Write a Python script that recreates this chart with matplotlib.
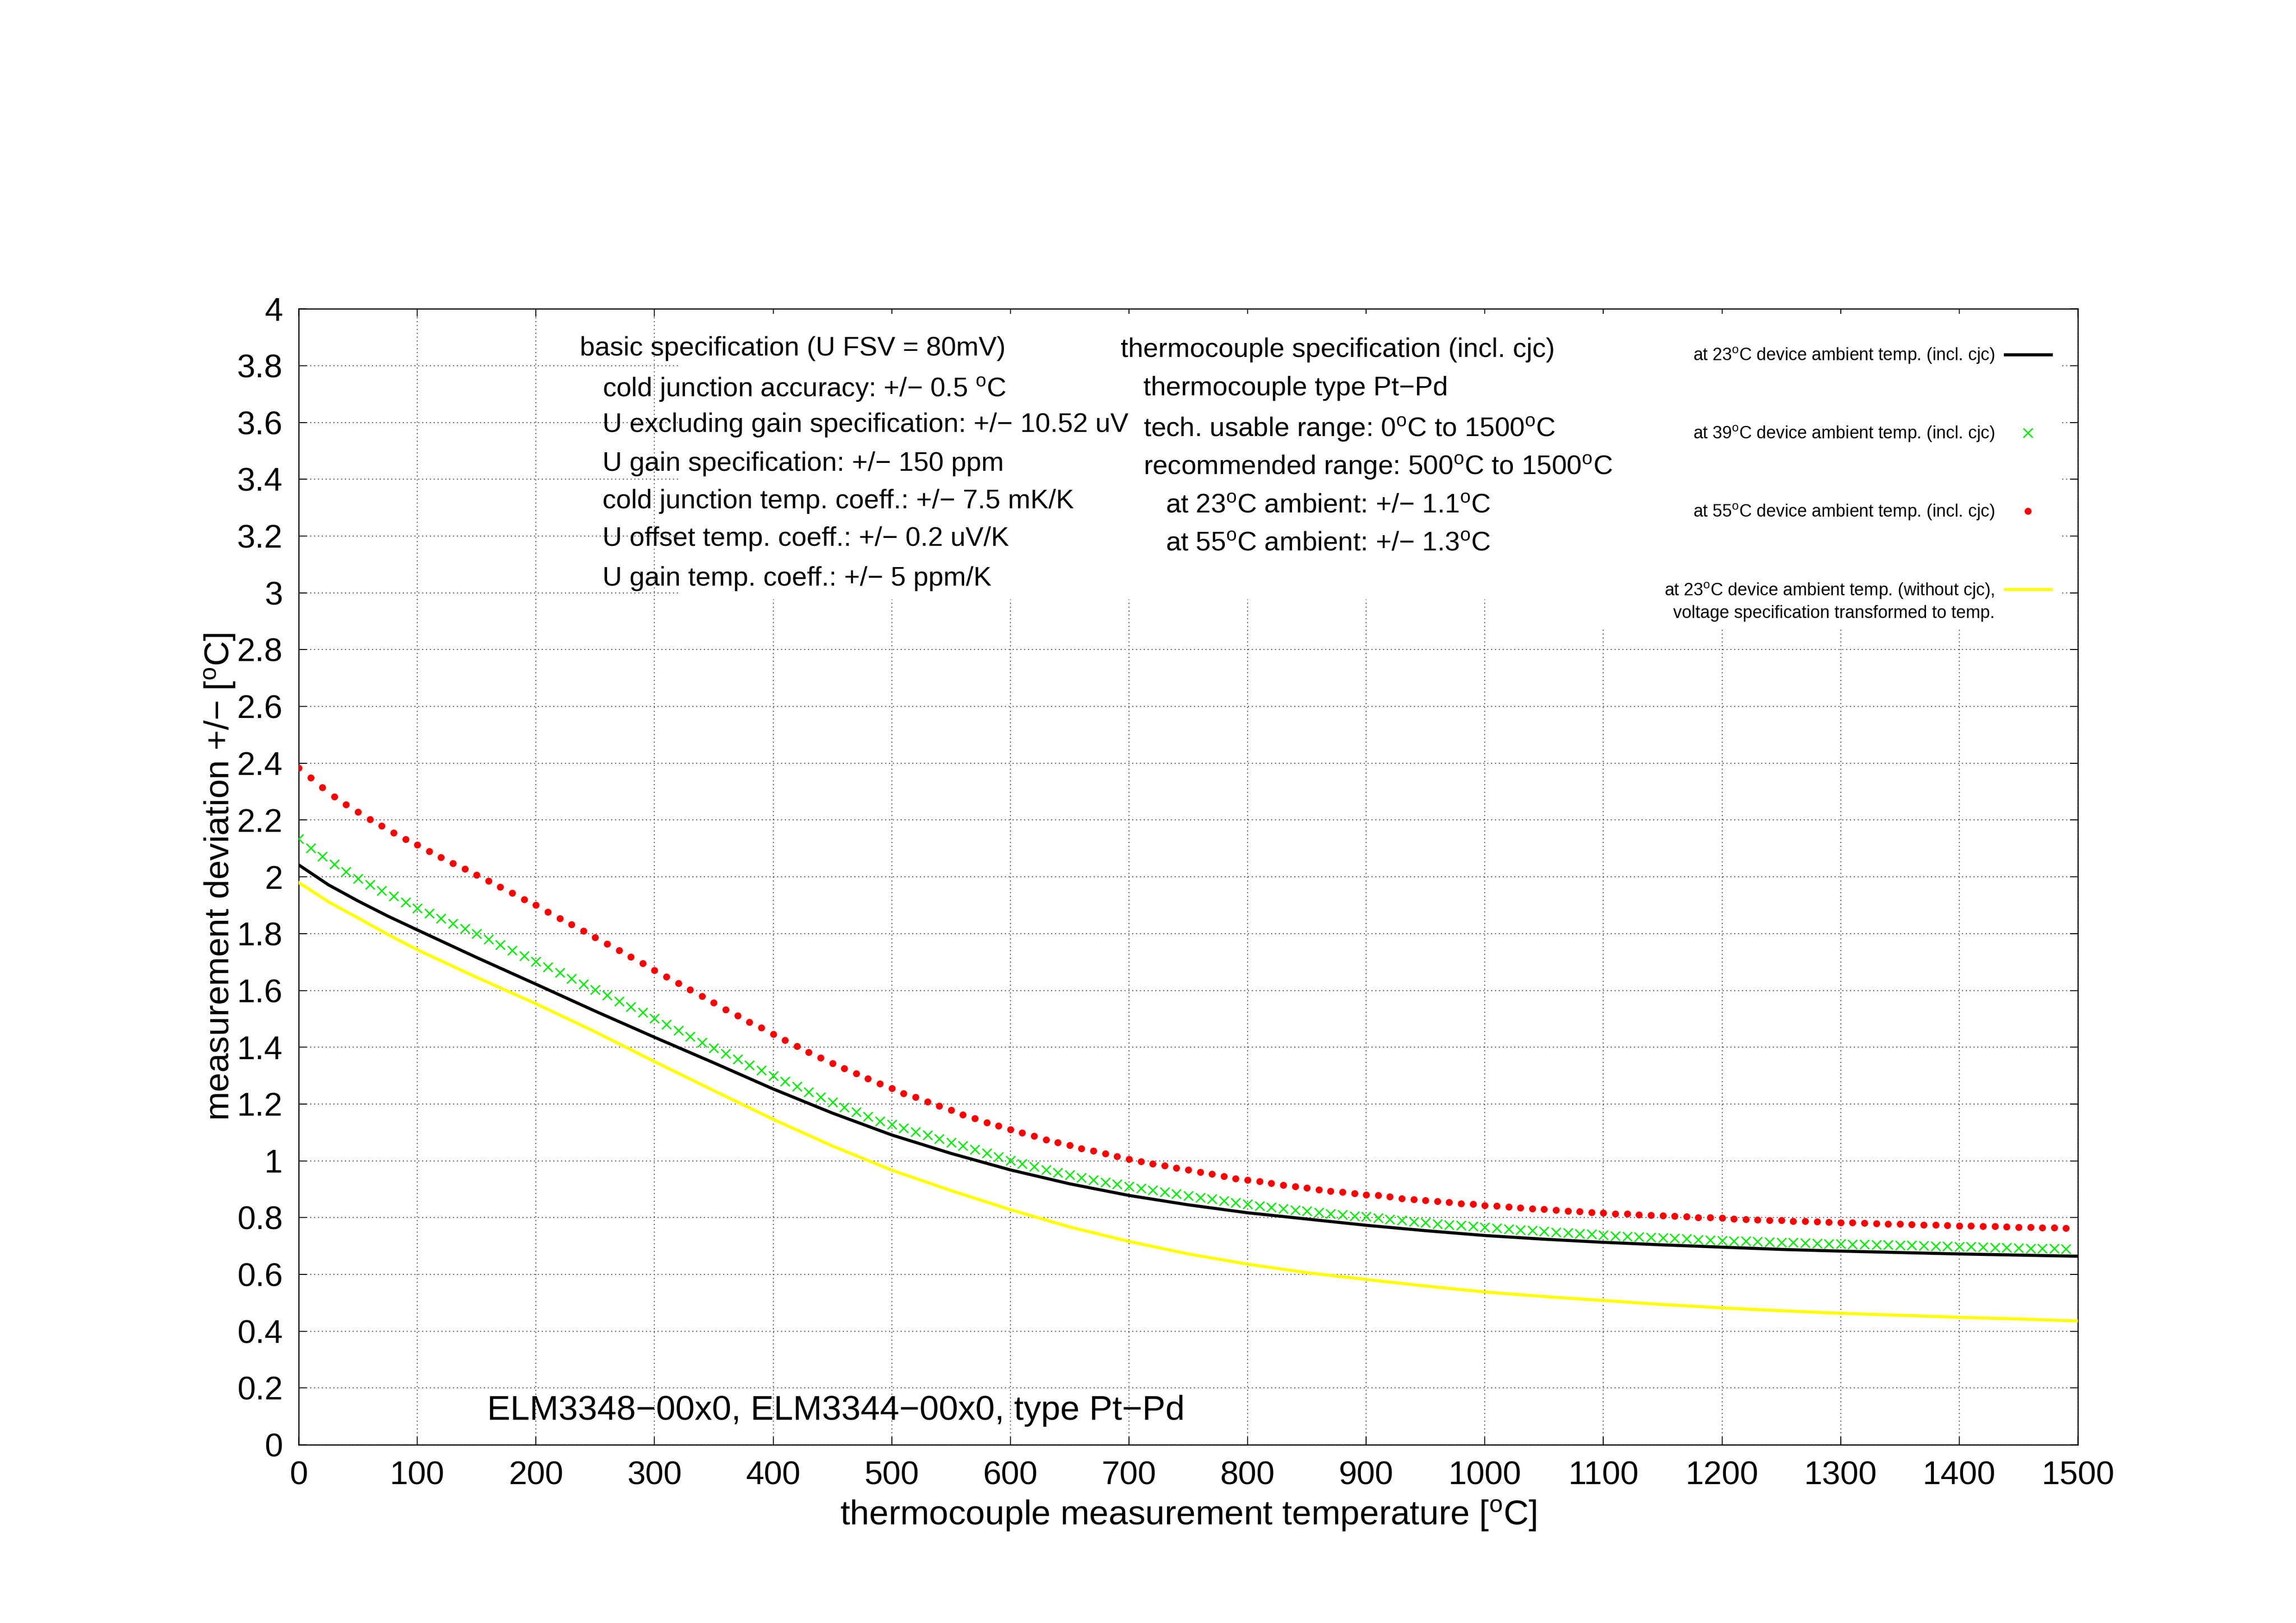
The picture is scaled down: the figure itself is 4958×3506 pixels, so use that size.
import numpy as np
import matplotlib.pyplot as plt
from matplotlib.patches import Rectangle

plt.rcParams['font.family'] = ['Liberation Sans', 'DejaVu Sans']
plt.rcParams['mathtext.fontset'] = 'custom'
plt.rcParams['mathtext.rm'] = 'Liberation Sans'
plt.rcParams['mathtext.it'] = 'Liberation Sans:italic'

DEG = r'$^{\mathrm{o}}$'

# lines (23 C with cjc, 23 C without cjc)
line_x = [0, 25, 50, 75, 100, 150, 200, 250, 300, 350, 400, 450, 500, 550, 600, 650,
          700, 750, 800, 850, 900, 950, 1000, 1050, 1100, 1150, 1200, 1250, 1300,
          1350, 1400, 1450, 1500]
black_y = [2.042, 1.972, 1.915, 1.862, 1.813, 1.716, 1.622, 1.527, 1.435, 1.345, 1.253,
           1.168, 1.091, 1.026, 0.968, 0.919, 0.878, 0.845, 0.817, 0.795, 0.773, 0.754,
           0.737, 0.724, 0.713, 0.704, 0.696, 0.688, 0.682, 0.677, 0.672, 0.668, 0.664]
yellow_y = [1.980, 1.912, 1.855, 1.797, 1.743, 1.646, 1.553, 1.454, 1.349, 1.247, 1.146,
            1.052, 0.967, 0.895, 0.828, 0.767, 0.716, 0.672, 0.636, 0.606, 0.582, 0.559,
            0.538, 0.522, 0.508, 0.494, 0.482, 0.472, 0.463, 0.456, 0.449, 0.443, 0.436]

# point series every 10 C
pts_x = np.arange(0, 1500, 10)
green_y = [
    2.134, 2.101, 2.072, 2.045, 2.018, 1.994, 1.973, 1.951, 1.931, 1.910,
    1.889, 1.871, 1.853, 1.835, 1.817, 1.799, 1.780, 1.761, 1.741, 1.721,
    1.702, 1.682, 1.663, 1.642, 1.622, 1.603, 1.583, 1.562, 1.542, 1.522,
    1.501, 1.480, 1.459, 1.438, 1.417, 1.397, 1.378, 1.358, 1.337, 1.318,
    1.299, 1.280, 1.261, 1.243, 1.225, 1.206, 1.189, 1.172, 1.156, 1.140,
    1.128, 1.115, 1.102, 1.090, 1.077, 1.065, 1.053, 1.040, 1.027, 1.014,
    1.001, 0.990, 0.979, 0.968, 0.959, 0.950, 0.941, 0.932, 0.924, 0.917,
    0.910, 0.903, 0.896, 0.890, 0.883, 0.877, 0.871, 0.865, 0.859, 0.853,
    0.847, 0.842, 0.836, 0.832, 0.827, 0.823, 0.819, 0.814, 0.810, 0.806,
    0.803, 0.798, 0.794, 0.790, 0.786, 0.782, 0.778, 0.775, 0.772, 0.769,
    0.766, 0.763, 0.760, 0.757, 0.754, 0.751, 0.748, 0.746, 0.743, 0.741,
    0.738, 0.736, 0.734, 0.732, 0.731, 0.729, 0.727, 0.725, 0.723, 0.721,
    0.719, 0.718, 0.717, 0.716, 0.714, 0.713, 0.712, 0.711, 0.709, 0.708,
    0.707, 0.706, 0.706, 0.704, 0.704, 0.703, 0.702, 0.701, 0.700, 0.699,
    0.698, 0.697, 0.696, 0.695, 0.694, 0.693, 0.692, 0.692, 0.691, 0.690]
red_y = [
    2.384, 2.349, 2.315, 2.283, 2.254, 2.228, 2.203, 2.179, 2.155, 2.133,
    2.112, 2.090, 2.068, 2.048, 2.028, 2.007, 1.986, 1.964, 1.943, 1.921,
    1.900, 1.877, 1.854, 1.833, 1.810, 1.787, 1.764, 1.741, 1.718, 1.695,
    1.671, 1.648, 1.626, 1.602, 1.579, 1.556, 1.533, 1.511, 1.488, 1.468,
    1.446, 1.425, 1.403, 1.383, 1.363, 1.343, 1.325, 1.307, 1.289, 1.271,
    1.255, 1.238, 1.224, 1.208, 1.193, 1.178, 1.163, 1.150, 1.135, 1.123,
    1.110, 1.099, 1.087, 1.075, 1.065, 1.054, 1.044, 1.035, 1.025, 1.015,
    1.006, 0.998, 0.990, 0.983, 0.975, 0.968, 0.961, 0.953, 0.946, 0.938,
    0.932, 0.927, 0.921, 0.915, 0.909, 0.904, 0.899, 0.894, 0.890, 0.886,
    0.881, 0.878, 0.873, 0.868, 0.864, 0.861, 0.857, 0.854, 0.850, 0.847,
    0.843, 0.841, 0.838, 0.835, 0.832, 0.830, 0.827, 0.824, 0.822, 0.819,
    0.817, 0.814, 0.813, 0.811, 0.809, 0.807, 0.805, 0.803, 0.801, 0.800,
    0.798, 0.796, 0.794, 0.793, 0.791, 0.790, 0.788, 0.787, 0.786, 0.784,
    0.783, 0.782, 0.781, 0.779, 0.778, 0.777, 0.776, 0.775, 0.774, 0.772,
    0.771, 0.771, 0.769, 0.769, 0.768, 0.767, 0.766, 0.765, 0.764, 0.763]

labels = [
    'at 23' + DEG + 'C device ambient temp. (incl. cjc)',
    'at 39' + DEG + 'C device ambient temp. (incl. cjc)',
    'at 55' + DEG + 'C device ambient temp. (incl. cjc)',
    'at 23' + DEG + 'C device ambient temp. (without cjc),',
]
label4_second = 'voltage specification transformed to temp.'

spec_left = [
    'basic specification (U FSV = 80mV)',
    'cold junction accuracy: +/\u2212 0.5 ' + DEG + 'C',
    'U excluding gain specification: +/\u2212 10.52 uV',
    'U gain specification: +/\u2212 150 ppm',
    'cold junction temp. coeff.: +/\u2212 7.5 mK/K',
    'U offset temp. coeff.: +/\u2212 0.2 uV/K',
    'U gain temp. coeff.: +/\u2212 5 ppm/K',
]
spec_left_pos = [(237, 3.835), (256, 3.691), (256, 3.567), (256, 3.429),
                 (256, 3.297), (256, 3.165), (256, 3.026)]
spec_right = [
    'thermocouple specification (incl. cjc)',
    'thermocouple type Pt\u2212Pd',
    'tech. usable range: 0' + DEG + 'C to 1500' + DEG + 'C',
    'recommended range: 500' + DEG + 'C to 1500' + DEG + 'C',
    'at 23' + DEG + 'C ambient: +/\u2212 1.1' + DEG + 'C',
    'at 55' + DEG + 'C ambient: +/\u2212 1.3' + DEG + 'C',
]
spec_right_pos = [(693, 3.830), (712, 3.696), (712, 3.551), (712, 3.417),
                  (731, 3.283), (731, 3.149)]

fig = plt.figure(figsize=(4958 / 300, 3506 / 300), dpi=300)
ax = fig.add_axes([0.1301, 0.1098, 0.7749, 0.6999])

ax.set_xlim(0, 1500)
ax.set_ylim(0, 4)
ax.set_xticks(np.arange(0, 1501, 100))
ax.set_yticks(np.arange(0, 4.01, 0.2))
ax.set_yticklabels([f'{v:g}' for v in np.round(np.arange(0, 4.01, 0.2), 1)])
ax.set_axisbelow(True)
ax.grid(True, color='#404040', linewidth=0.5, dashes=(1, 3))
ax.tick_params(direction='in', length=4, width=0.5, top=True, right=True,
               labelsize=17)
ax.tick_params(axis='x', pad=8.3)
ax.tick_params(axis='y', pad=8.3)
for s in ax.spines.values():
    s.set_linewidth(0.6)

# opaque areas behind the text blocks and key
ax.add_patch(Rectangle((322, 2.976), 798, 1.006, facecolor='white',
                       edgecolor='none', zorder=1))
ax.add_patch(Rectangle((1095, 2.877), 391, 1.105, facecolor='white',
                       edgecolor='none', zorder=1))

h1, = ax.plot(line_x, black_y, color='black', linewidth=1.6, label=labels[0], zorder=3)
h2, = ax.plot(pts_x, green_y, linestyle='none', marker='x', markersize=5,
              markeredgewidth=0.7, color='#00ee00', label=labels[1], zorder=3)
h3, = ax.plot(pts_x, red_y, linestyle='none', marker='o', markersize=3.6,
              markeredgewidth=0, color='#ff0000', label=labels[2], zorder=3)
h4, = ax.plot(line_x, yellow_y, color='#ffff00', linewidth=1.6, label=labels[3], zorder=3)

leg = ax.legend(handles=[h1, h2, h3, h4], loc='upper right',
                bbox_to_anchor=(0.9897, 0.975), frameon=False, markerfirst=False,
                fontsize=9, handlelength=2.64, handletextpad=0.6,
                labelspacing=3.41, borderpad=0, numpoints=1)
leg.set_zorder(5)

# second line of the last key entry, right-aligned under the first line
ax.annotate(label4_second, xy=(1, 0), xycoords=leg.get_texts()[3],
            xytext=(0, -2.5), textcoords='offset points', ha='right', va='top',
            fontsize=9, zorder=6)

for txt, (x, y) in zip(spec_left, spec_left_pos):
    ax.text(x, y, txt, fontsize=14, ha='left', va='baseline', zorder=4)
for txt, (x, y) in zip(spec_right, spec_right_pos):
    ax.text(x, y, txt, fontsize=14, ha='left', va='baseline', zorder=4)

ax.text(159, 0.088, 'ELM3348\u221200x0, ELM3344\u221200x0, type Pt\u2212Pd',
        fontsize=18, ha='left', va='baseline', zorder=4)

ax.set_xlabel('thermocouple measurement temperature [' + DEG + 'C]', fontsize=18,
              labelpad=3.5)
ax.set_ylabel('measurement deviation +/\u2212 [' + DEG + 'C]', fontsize=18,
              labelpad=0)

fig.canvas.draw()
fig.savefig('out.png', dpi=300)
